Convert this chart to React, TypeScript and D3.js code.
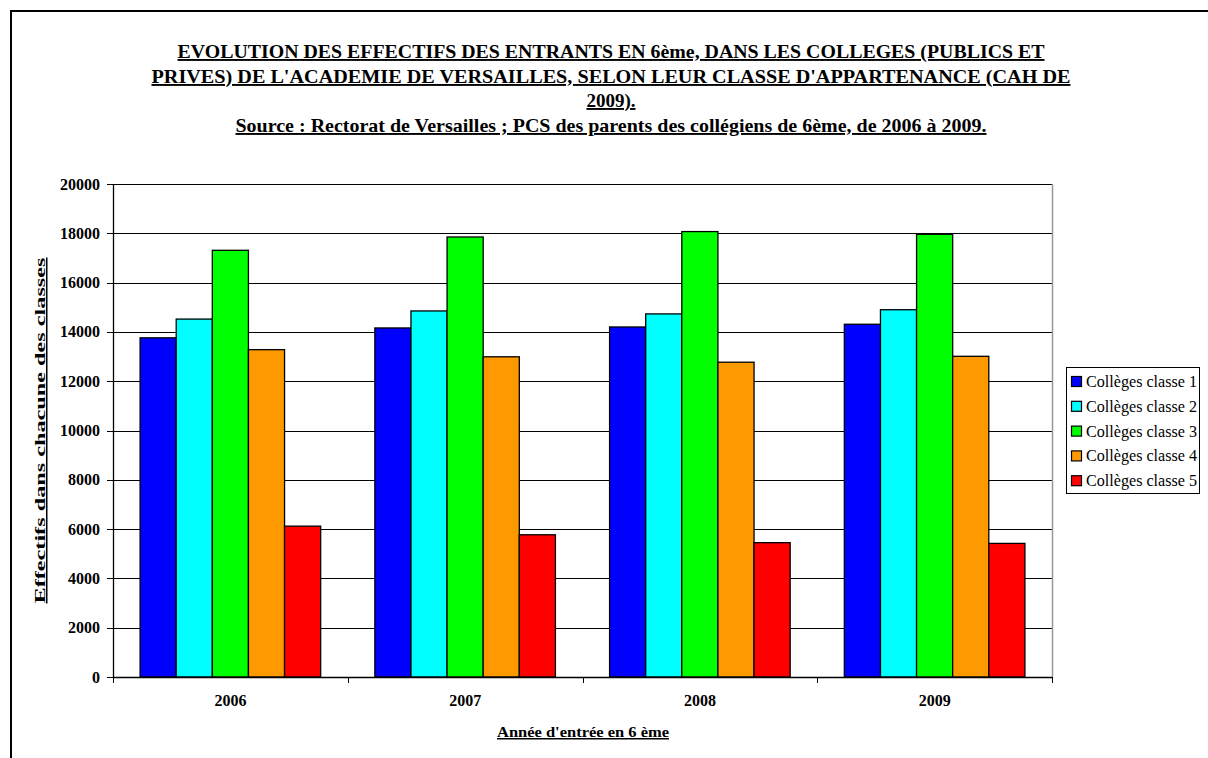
import React from "react";
import * as d3 from "d3";

const years = ["2006", "2007", "2008", "2009"];
const seriesNames = ["Collèges classe 1", "Collèges classe 2", "Collèges classe 3", "Collèges classe 4", "Collèges classe 5"];
const seriesColors = ["#0000FF", "#00FFFF", "#00FF00", "#FF9900", "#FF0000"];
const classe1 = [13760, 14160, 14200, 14310];
const classe2 = [14520, 14850, 14730, 14900];
const classe3 = [17310, 17850, 18070, 17960];
const classe4 = [13280, 12990, 12770, 13010];
const classe5 = [6120, 5770, 5450, 5420];
const yTicks = [0, 2000, 4000, 6000, 8000, 10000, 12000, 14000, 16000, 18000, 20000];
const titleLines = [
  "EVOLUTION DES EFFECTIFS DES ENTRANTS EN 6ème, DANS LES COLLEGES (PUBLICS ET ",
  "PRIVES) DE L'ACADEMIE DE VERSAILLES, SELON LEUR CLASSE D'APPARTENANCE (CAH DE",
  "2009).",
  "Source : Rectorat de Versailles ; PCS des parents des collégiens de 6ème, de 2006 à 2009.",
];

const allSeries = [classe1, classe2, classe3, classe4, classe5];

export default function App() {
  React.useEffect(() => {
    document.body.style.margin = "0";
    document.body.style.overflow = "hidden";
  }, []);
  const left = 113, right = 1052, top = 184, bottom = 677;
  const x = d3.scaleBand().domain(years).range([left, right]).paddingInner(0).paddingOuter(0);
  const y = d3.scaleLinear().domain([0, 20000]).range([bottom, top]);
  const groupW = x.bandwidth();
  const barW = groupW / 6.5;
  const gap = (groupW - barW * 5) / 2;
  const font = "'Liberation Serif', 'Times New Roman', serif";
  const titleY = [58, 83, 107, 132];
  const titleLen: (number | undefined)[] = [867, 919, undefined, 751];

  return (
    <svg width={1208} height={758} style={{ display: "block", background: "#fff" }} fontFamily={font}>
      <rect x={0} y={0} width={1208} height={758} fill="#fff" />
      <path d="M11,758 V11 H1208" fill="none" stroke="#000" strokeWidth={2} />
      {titleLines.map((t, i) => (
        <text key={i} x={611} y={titleY[i]} textAnchor="middle" fontSize={19} fontWeight="bold" textDecoration="underline"
          textLength={titleLen[i]} lengthAdjust={titleLen[i] ? "spacingAndGlyphs" : undefined}>
          {t}
        </text>
      ))}
      {/* gridlines */}
      {yTicks.map((v) => (
        <line key={v} x1={left} x2={right} y1={Math.round(y(v)) + 0.5} y2={Math.round(y(v)) + 0.5} stroke="#000" strokeWidth={1} />
      ))}
      <line x1={right + 0.5} x2={right + 0.5} y1={top} y2={bottom} stroke="#999" strokeWidth={1.5} />
      {/* bars */}
      {years.map((yr, gi) =>
        allSeries.map((s, si) => {
          const x0 = (x(yr) as number) + gap + si * barW;
          return (
            <rect key={yr + si} x={x0} y={y(s[gi])} width={barW} height={bottom - y(s[gi])} fill={seriesColors[si]} stroke="#000" strokeWidth={1.3} />
          );
        })
      )}
      {/* axes */}
      <line x1={left + 0.5} x2={left + 0.5} y1={top} y2={bottom} stroke="#000" strokeWidth={1.3} />
      <line x1={left} x2={right} y1={bottom + 0.5} y2={bottom + 0.5} stroke="#000" strokeWidth={1.3} />
      {yTicks.map((v) => (
        <g key={"t" + v}>
          <line x1={left - 6} x2={left} y1={Math.round(y(v)) + 0.5} y2={Math.round(y(v)) + 0.5} stroke="#000" />
          <text x={100} y={y(v) + 5.5} textAnchor="end" fontSize={16} fontWeight="bold">{v}</text>
        </g>
      ))}
      {years.map((yr, i) => (
        <g key={"x" + yr}>
          <line x1={Math.round(x(yr) as number) + 0.5} x2={Math.round(x(yr) as number) + 0.5} y1={bottom} y2={bottom + 6} stroke="#000" />
          <text x={(x(yr) as number) + groupW / 2} y={706} textAnchor="middle" fontSize={16} fontWeight="bold">{yr}</text>
        </g>
      ))}
      <line x1={right + 0.5} x2={right + 0.5} y1={bottom} y2={bottom + 6} stroke="#000" />
      <text x={583} y={737} textAnchor="middle" fontSize={15} fontWeight="bold" textDecoration="underline"
        textLength={172} lengthAdjust="spacingAndGlyphs">Année d'entrée en 6 ème</text>
      <text transform={`translate(45, ${(top + bottom) / 2}) rotate(-90)`} textAnchor="middle" fontSize={15} fontWeight="bold" textDecoration="underline"
        textLength={346} lengthAdjust="spacingAndGlyphs">
        Effectifs dans chacune des classes
      </text>
      {/* legend */}
      <rect x={1066.5} y={367.5} width={133} height={126} fill="#fff" stroke="#000" strokeWidth={1} />
      {seriesNames.map((n, i) => (
        <g key={n}>
          <rect x={1071.5} y={376.5 + i * 24.8} width={10} height={10} fill={seriesColors[i]} stroke="#000" strokeWidth={1.2} />
          <text x={1086} y={387 + i * 24.8} fontSize={16} textLength={111} lengthAdjust="spacingAndGlyphs">{n}</text>
        </g>
      ))}
    </svg>
  );
}
